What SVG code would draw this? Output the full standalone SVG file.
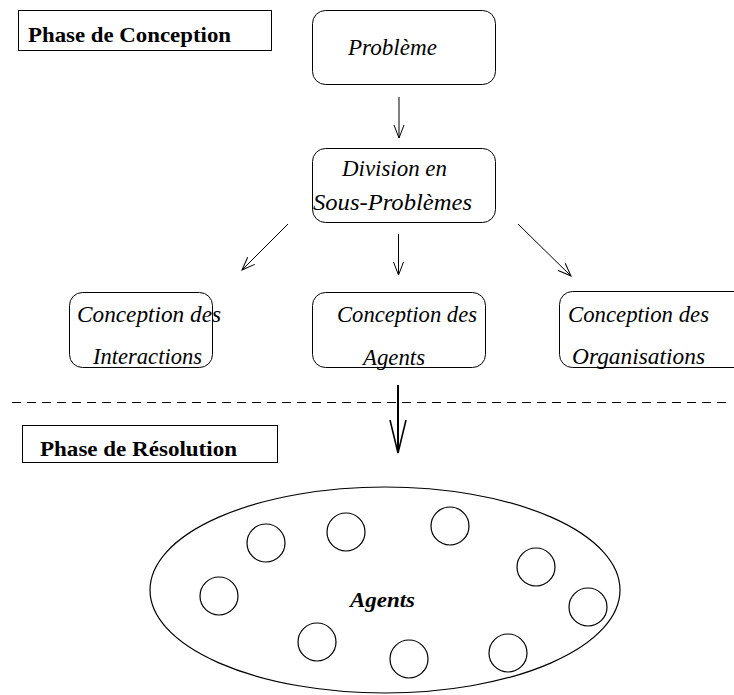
<svg xmlns="http://www.w3.org/2000/svg" width="734" height="695" viewBox="0 0 734 695">
<style>
.box{fill:#fff;stroke:#000;stroke-width:1}
.it{font-family:"Liberation Serif","Times New Roman",serif;font-style:italic;font-size:24px;fill:#000}
.bd{font-family:"Liberation Serif","Times New Roman",serif;font-weight:bold;font-size:22px;fill:#000}
.ln{stroke:#000;stroke-width:1;fill:none}
.ag{fill:none;stroke:#000;stroke-width:1.2}
</style>
<defs>
<marker id="ah" markerUnits="userSpaceOnUse" markerWidth="16" markerHeight="14" refX="13" refY="6" orient="auto" viewBox="0 0 16 12">
<polyline points="0,1 13,6 0,11" fill="none" stroke="#000" stroke-width="1"/>
</marker>
<marker id="ahb" markerUnits="userSpaceOnUse" markerWidth="36" markerHeight="20" refX="33" refY="9" orient="auto" viewBox="0 0 36 18">
<polyline points="0,1 33,9 0,17" fill="none" stroke="#000" stroke-width="1.6"/>
</marker>
</defs>
<g id="phase-conception">
<rect class="box" x="18.5" y="10.5" width="253" height="40"/>
<text class="bd" x="28" y="42" textLength="203" lengthAdjust="spacingAndGlyphs">Phase de Conception</text>
</g>
<g id="probleme">
<rect class="box" x="312.5" y="10.5" width="183" height="74" rx="13"/>
<text class="it" x="348" y="55" textLength="89" lengthAdjust="spacingAndGlyphs">Problème</text>
</g>
<g id="division">
<rect class="box" x="312.5" y="148.5" width="183" height="74" rx="13"/>
<text class="it" x="342" y="176" textLength="105" lengthAdjust="spacingAndGlyphs">Division en</text>
<text class="it" x="313" y="210" textLength="159" lengthAdjust="spacingAndGlyphs">Sous-Problèmes</text>
</g>
<g id="interactions">
<rect class="box" x="69.5" y="292.5" width="143" height="75" rx="13"/>
<text class="it" x="77" y="322" textLength="144" lengthAdjust="spacingAndGlyphs">Conception des</text>
<text class="it" x="93" y="364" textLength="109" lengthAdjust="spacingAndGlyphs">Interactions</text>
</g>
<g id="agents-conc">
<rect class="box" x="312.5" y="292.5" width="173" height="75" rx="13"/>
<text class="it" x="337" y="322" textLength="140" lengthAdjust="spacingAndGlyphs">Conception des</text>
<text class="it" x="363" y="365" textLength="62" lengthAdjust="spacingAndGlyphs">Agents</text>
</g>
<g id="organisations">
<rect class="box" x="559.5" y="291.5" width="200" height="76" rx="13"/>
<text class="it" x="568" y="322" textLength="141" lengthAdjust="spacingAndGlyphs">Conception des</text>
<text class="it" x="572" y="364" textLength="133" lengthAdjust="spacingAndGlyphs">Organisations</text>
</g>
<g id="phase-resolution">
<rect class="box" x="22.5" y="425.5" width="255" height="37"/>
<text class="bd" x="40" y="456" textLength="197" lengthAdjust="spacingAndGlyphs">Phase de Résolution</text>
</g>
<g id="separator">
<line x1="12" y1="402.5" x2="730" y2="402.5" stroke="#000" stroke-width="1" stroke-dasharray="9,6"/>
</g>
<g id="connectors">
<line class="ln" x1="399" y1="97" x2="399" y2="138" marker-end="url(#ah)"/>
<line class="ln" x1="288" y1="224" x2="242" y2="270" marker-end="url(#ah)"/>
<line class="ln" x1="398.5" y1="234" x2="398.5" y2="275" marker-end="url(#ah)"/>
<line class="ln" x1="518" y1="224" x2="571" y2="276" marker-end="url(#ah)"/>
<line x1="398" y1="385" x2="398" y2="453" stroke="#000" stroke-width="2" marker-end="url(#ahb)"/>
</g>
<g id="agents-pool">
<ellipse class="ag" cx="385" cy="590" rx="235" ry="103"/>
<circle class="ag" cx="266" cy="543" r="19"/>
<circle class="ag" cx="346" cy="532" r="19"/>
<circle class="ag" cx="450" cy="526" r="19"/>
<circle class="ag" cx="536" cy="567" r="19"/>
<circle class="ag" cx="219" cy="596" r="19"/>
<circle class="ag" cx="588" cy="607" r="19"/>
<circle class="ag" cx="317" cy="642" r="19"/>
<circle class="ag" cx="409" cy="659" r="19"/>
<circle class="ag" cx="508" cy="653" r="19"/>
<text class="bd" x="350" y="607" font-style="italic" font-size="21" textLength="65" lengthAdjust="spacingAndGlyphs">Agents</text>
</g>
</svg>
